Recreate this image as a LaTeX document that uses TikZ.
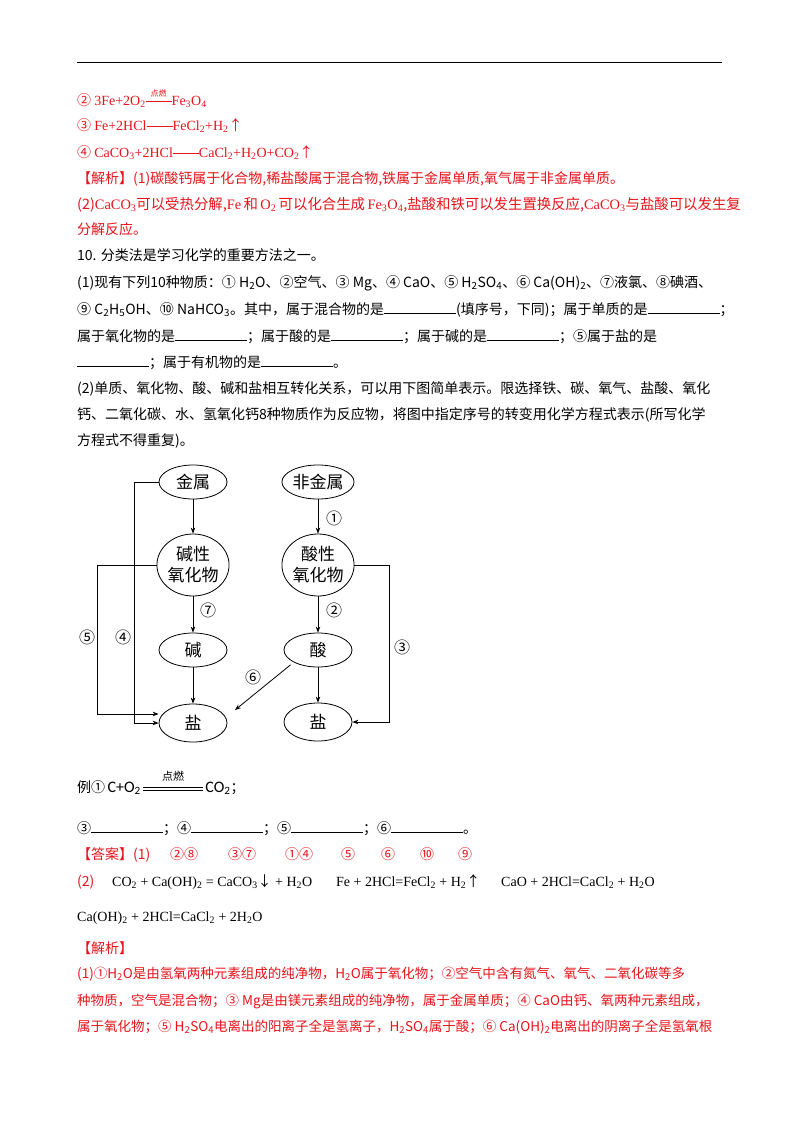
\documentclass[tikz,border=0pt]{standalone}
\usepackage{fontspec}
\setmainfont{Noto Sans CJK SC}
\newfontfamily\tnr{Liberation Serif}
\newfontfamily\calf{Carlito}
\usetikzlibrary{shapes.geometric,arrows.meta}
\definecolor{ansred}{HTML}{E8141B}
\newcommand{\sbs}[1]{\textsubscript{#1}}
\newcommand{\blank}{\rule{72pt}{0.7pt}}
\newcommand{\longeq}[1]{\raisebox{3.5pt}{\rule{#1}{0.5pt}}}
\newcommand{\condeq}[2]{\raisebox{3.5pt}{\rule{#1}{0.7pt}}\llap{\raisebox{9pt}{\makebox[#1]{\fontsize{8}{8}\selectfont #2}}}}
\begin{document}
\begin{tikzpicture}[x=1pt,y=-1pt,
  txt/.style={anchor=base west,inner sep=0pt,font=\fontsize{14}{16}\selectfont},
  rtxt/.style={txt,text=ansred},
  btxt/.style={rtxt,font=\fontsize{13.5}{16}\selectfont},
  ell/.style={draw,thick,ellipse,minimum width=68pt,minimum height=34pt,inner sep=0pt,font=\fontsize{17}{20}\selectfont},
  arr/.style={draw,line width=0.8pt,-{Stealth[length=6pt,width=4.5pt]}},
  lab/.style={font=\fontsize{16}{16}\selectfont,inner sep=0pt}]
\useasboundingbox (0,0) rectangle (800,1132);
\fill[white] (0,0) rectangle (800,1132);
\draw[line width=1pt] (77,63) -- (722,63);
% red top lines
\node[rtxt] (l1) at (77,105) {② {\tnr 3Fe+2O\sbs{2}}\condeq{26pt}{点燃}{\tnr Fe\sbs{3}O\sbs{4}}};
\node[rtxt] (l2) at (77,130) {③ {\tnr Fe+2HCl}\longeq{26pt}{\tnr FeCl\sbs{2}+H\sbs{2}}↑};
\node[rtxt] (l3) at (77,157) {④ {\tnr CaCO\sbs{3}+2HCl}\longeq{26pt}{\tnr CaCl\sbs{2}+H\sbs{2}O+CO\sbs{2}}↑};
\node[rtxt] (l4) at (77,183) {【解析】(1)碳酸钙属于化合物,稀盐酸属于混合物,铁属于金属单质,氧气属于非金属单质。};
\node[rtxt,font=\fontsize{14.4}{16}\selectfont] (l5) at (77,209) {(2){\tnr CaCO\sbs{3}}可以受热分解,{\tnr Fe}\,和\,{\tnr O\sbs{2}}\,可以化合生成\,{\tnr Fe\sbs{3}O\sbs{4}},盐酸和铁可以发生置换反应,{\tnr CaCO\sbs{3}}与盐酸可以发生复};
\node[rtxt] (l6) at (77,234) {分解反应。};
% question
\node[txt] (q1) at (77,260) {10. 分类法是学习化学的重要方法之一。};
\node[txt] (q2) at (77,287) {(1)现有下列10种物质：① H\sbs{2}O、②空气、③ Mg、④ CaO、⑤ H\sbs{2}SO\sbs{4}、⑥ Ca(OH)\sbs{2}、⑦液氯、⑧碘酒、};
\node[txt] (q3) at (77,314) {⑨ C\sbs{2}H\sbs{5}OH、⑩ NaHCO\sbs{3}。其中，属于混合物的是\blank(填序号，下同)；属于单质的是\blank；};
\node[txt] (q4) at (77,341) {属于氧化物的是\blank；属于酸的是\blank；属于碱的是\blank；⑤属于盐的是};
\node[txt] (q5) at (77,367) {\blank；属于有机物的是\blank。};
\node[txt] (q6) at (77,393) {(2)单质、氧化物、酸、碱和盐相互转化关系，可以用下图简单表示。限选择铁、碳、氧气、盐酸、氧化};
\node[txt] (q7) at (77,419) {钙、二氧化碳、水、氢氧化钙8种物质作为反应物，将图中指定序号的转变用化学方程式表示(所写化学};
\node[txt] (q8) at (77,445) {方程式不得重复)。};
% diagram
\node[ell] (jin) at (193,482) {金属};
\node[ell,minimum height=62pt,align=center,font=\fontsize{17}{21}\selectfont] (jx) at (193,565) {碱性\\氧化物};
\node[ell] (jian) at (193,650) {碱};
\node[ell,minimum height=38pt] (yanL) at (193,723) {盐};
\node[ell] (fei) at (318,482) {非金属};
\node[ell,minimum height=62pt,align=center,font=\fontsize{17}{21}\selectfont] (sx) at (318,565) {酸性\\氧化物};
\node[ell] (suan) at (318,650) {酸};
\node[ell,minimum height=38pt] (yanR) at (318,722) {盐};
\draw[arr] (jin) -- (jx);
\draw[arr] (jx) -- (jian);
\draw[arr] (jian) -- (yanL);
\draw[arr] (fei) -- (sx);
\draw[arr] (sx) -- (suan);
\draw[arr] (suan) -- (yanR);
\draw[arr] (jin.west) -- ++(-24,0) |- (yanL.west);
\draw[arr] (jx.west) -- ++(-59,0) |- ([yshift=9pt]yanL.west);
\draw[arr] (sx.east) -- ++(35,0) |- (yanR.east);
\coordinate (s6) at (235,710);
\draw[arr,shorten <=4pt] (suan.south west) -- (s6);
\node[lab] (n5) at (87,637) {⑤};
\node[lab] (n4) at (123,637) {④};
\node[lab] (n7) at (208,610) {⑦};
\node[lab] (n1) at (334,518) {①};
\node[lab] (n2) at (334,610) {②};
\node[lab] (n3) at (402,647) {③};
\node[lab] (n6) at (253,677) {⑥};
% example
\node[txt] (ex) at (77,792) {例①\,{\calf\fontsize{16}{16}\selectfont C+O\sbs{2}}\,\raisebox{2pt}{\rule{60pt}{0.5pt}}\llap{\raisebox{5pt}{\rule{60pt}{0.5pt}}}\llap{\raisebox{12pt}{\makebox[60pt]{\fontsize{11}{11}\selectfont 点燃}}}\,{\calf\fontsize{16}{16}\selectfont CO\sbs{2}}；};
\node[txt] (bl) at (77,833) {③\blank；④\blank；⑤\blank；⑥\blank。};
% answers
\node[rtxt] (a1) at (77,859) {【答案】(1)};
\node[rtxt] (a2) at (170,859) {②⑧};
\node[rtxt] (a3) at (228,859) {③⑦};
\node[rtxt] (a4) at (285,859) {①④};
\node[rtxt] (a5) at (341,859) {⑤};
\node[rtxt] (a6) at (381,859) {⑥};
\node[rtxt] (a7) at (420,859) {⑩};
\node[rtxt] (a8) at (458,859) {⑨};
\node[rtxt] (a9) at (77,886) {(2)};
\node[txt] (e1) at (112,886) {\tnr CO\sbs{2} + Ca(OH)\sbs{2} = CaCO\sbs{3}{\rmfamily ↓} + H\sbs{2}O};
\node[txt] (e2) at (336,886) {\tnr Fe + 2HCl=FeCl\sbs{2} + H\sbs{2}{\rmfamily ↑}};
\node[txt] (e3) at (501,886) {\tnr CaO + 2HCl=CaCl\sbs{2} + H\sbs{2}O};
\node[txt] (e4) at (77,921) {\tnr Ca(OH)\sbs{2} + 2HCl=CaCl\sbs{2} + 2H\sbs{2}O};
% analysis
\node[rtxt] (b1) at (77,953) {【解析】};
\node[btxt] (b2) at (77,978) {(1)①H\sbs{2}O是由氢氧两种元素组成的纯净物，H\sbs{2}O属于氧化物；②空气中含有氮气、氧气、二氧化碳等多};
\node[btxt] (b3) at (77,1005) {种物质，空气是混合物；③ Mg是由镁元素组成的纯净物，属于金属单质；④ CaO由钙、氧两种元素组成，};
\node[btxt] (b4) at (77,1031) {属于氧化物；⑤ H\sbs{2}SO\sbs{4}电离出的阳离子全是氢离子，H\sbs{2}SO\sbs{4}属于酸；⑥ Ca(OH)\sbs{2}电离出的阴离子全是氢氧根};
\end{tikzpicture}
\end{document}
